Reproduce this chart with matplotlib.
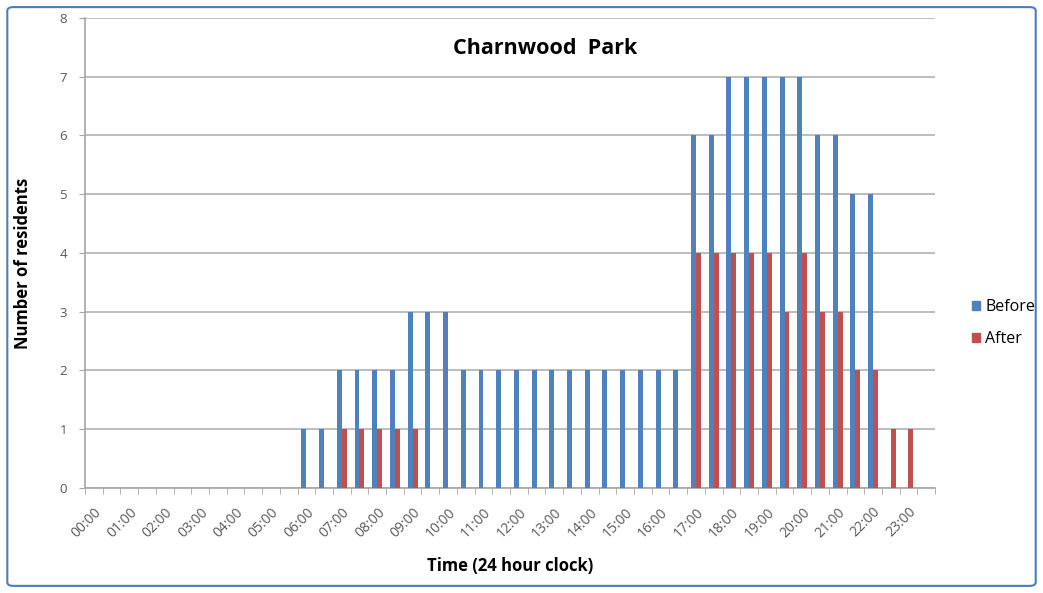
import numpy as np
import matplotlib.pyplot as plt
from matplotlib.patches import FancyBboxPatch, Patch

# half-hour slots, 00:00 .. 23:30
slots = ["%02d:%02d" % (h, m) for h in range(24) for m in (0, 30)]
hour_labels = ["%02d:00" % h for h in range(24)]

before = [0] * 12 + [1, 1, 2, 2, 2, 2, 3, 3, 3] + [2] * 13 + \
         [6, 6, 7, 7, 7, 7, 7, 6, 6, 5, 5, 0, 0, 0]
after = [0] * 14 + [1, 1, 1, 1, 1] + [0] * 15 + \
        [4, 4, 4, 4, 4, 3, 4, 3, 3, 2, 2, 1, 1, 0]

blue = '#4F81BD'
red = '#C0504D'
grey = '#595959'

plt.rcParams['font.family'] = ['Open Sans', 'DejaVu Sans']

fig = plt.figure(figsize=(10.43, 5.93), dpi=100)
ax = fig.add_axes([0.0815, 0.177, 0.815, 0.793])

x = np.arange(len(slots))
w = 0.28
ax.bar(x - w / 2, before, width=w, color=blue, zorder=3)
ax.bar(x + w / 2, after, width=w, color=red, zorder=3)

ax.set_xlim(-0.5, len(slots) - 0.5)
ax.set_ylim(0, 8)
ax.set_yticks(range(9))
ax.grid(axis='y', color='#BDBDBD', linewidth=1.4, zorder=0)

ax.set_xticks(x[::2])
ax.set_xticklabels(hour_labels, rotation=45, ha='right', rotation_mode='anchor',
                   fontsize=10, color=grey)
ax.set_xticks(np.arange(-0.5, len(slots)), minor=True)
ax.tick_params(axis='x', which='major', length=0, pad=12)
ax.tick_params(axis='x', which='minor', length=4, color='#A6A6A6')
ax.tick_params(axis='y', length=4, color='#A6A6A6', labelsize=9.5, labelcolor=grey, pad=9)

for s in ['top', 'right']:
    ax.spines[s].set_visible(False)
for s in ['left', 'bottom']:
    ax.spines[s].set_color('#A6A6A6')
    ax.spines[s].set_linewidth(1.2)

fig.text(545 / 1043, 1 - 48 / 593, 'Charnwood  Park', fontsize=15.5, fontweight='bold',
         ha='center', va='center')
ax.set_xlabel('Time (24 hour clock)', fontsize=12, fontweight='bold', labelpad=12)
ax.set_ylabel('Number of residents', fontsize=12, fontweight='bold', labelpad=20)
ax.yaxis.set_label_coords(-0.062, 0.477)

handles = [Patch(color=blue, label='Before'), Patch(color=red, label='After')]
fig.legend(handles=handles, loc='center left', bbox_to_anchor=(0.918, 0.455),
           frameon=False, fontsize=11.5, handlelength=0.5, handleheight=0.5,
           handletextpad=0.35, labelspacing=1.0)

frame = FancyBboxPatch((0.007, 0.012), 0.986, 0.976, boxstyle='round,pad=0,rounding_size=0.006',
                       transform=fig.transFigure, fill=False, edgecolor='#4A7EBB', linewidth=1.5)
fig.patches.append(frame)

fig.savefig('out.png', dpi=100)
